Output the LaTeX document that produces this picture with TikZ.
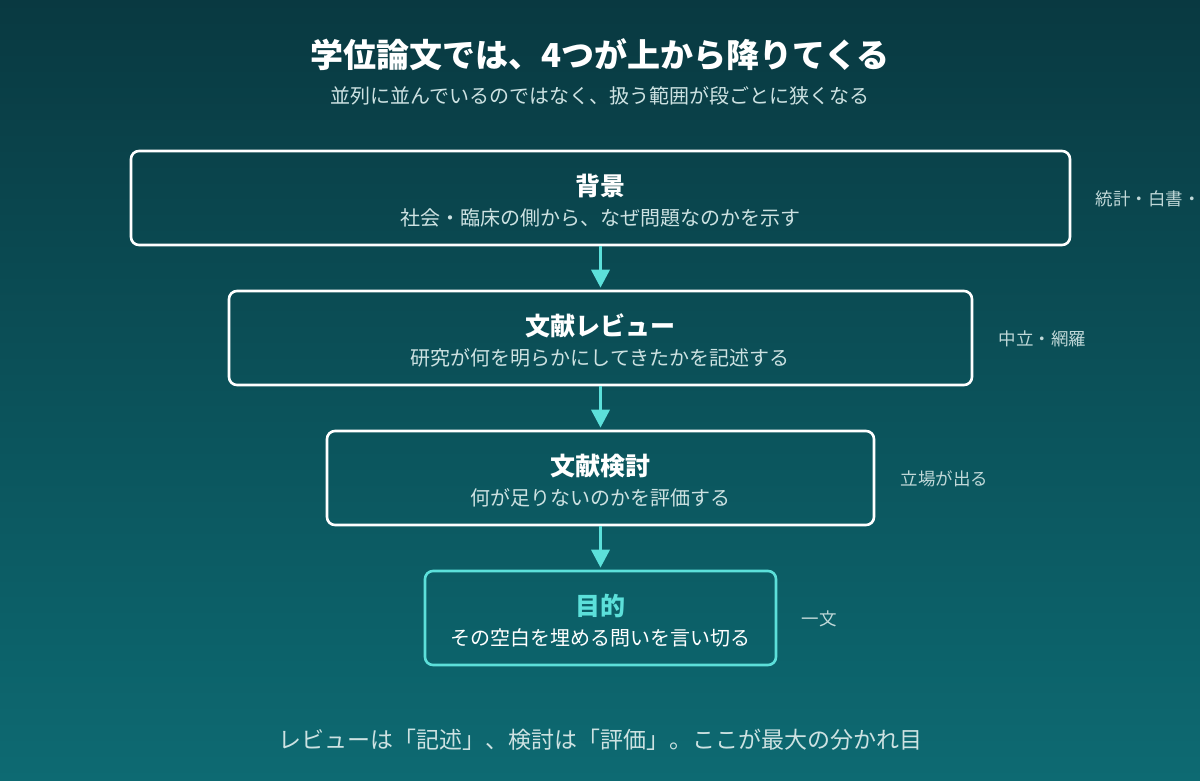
\documentclass[tikz,border=0pt]{standalone}
\usepackage{fontspec}
\setmainfont{Noto Sans CJK JP}
\newfontfamily\jp{Noto Sans CJK JP}
\usetikzlibrary{arrows.meta}
\definecolor{bgtop}{RGB}{9,57,65}
\definecolor{bgbot}{RGB}{13,106,114}
\definecolor{accent}{RGB}{92,224,218}
\definecolor{subtxt}{RGB}{205,226,226}
\definecolor{sidetxt}{RGB}{192,216,216}
\tikzset{
  stage/.style={draw=white, line width=2.6pt, rounded corners=8pt, minimum height=94pt, inner sep=0pt},
  goal/.style={stage, draw=accent},
  flow/.style={draw=accent, line width=3.5pt, -{Triangle[length=18pt,width=18pt]}, shorten >=2pt},
  ttl/.style={font=\jp\bfseries\fontsize{25}{29}\selectfont, text=white, anchor=center},
  sub/.style={font=\jp\fontsize{20}{24}\selectfont, text=subtxt, anchor=center},
  side/.style={font=\jp\fontsize{17.5}{21}\selectfont, text=sidetxt, anchor=west},
}
\begin{document}
\begin{tikzpicture}[x=1pt,y=-1pt]
\useasboundingbox (0,0) rectangle (1200,780);
\shade[top color=bgtop, bottom color=bgbot] (0,0) rectangle (1200,780);
% title
\node[font=\jp\bfseries\fontsize{33}{39}\selectfont, text=white] (title) at (600,55) {学位論文では、4つが上から降りてくる};
\node[font=\jp\fontsize{20}{24}\selectfont, text=subtxt] (subtitle) at (600,96) {並列に並んでいるのではなく、扱う範囲が段ごとに狭くなる};
% boxes
\node[stage, minimum width=939pt] (b1) at (600.5,198) {};
\node[stage, minimum width=743pt] (b2) at (600.5,338) {};
\node[stage, minimum width=547pt] (b3) at (600.5,478) {};
\node[goal, minimum width=351pt] (b4) at (600.5,618) {};
% texts
\node[ttl] (t1) at (600,186) {背景};
\node[sub] (s1) at (600,218) {社会・臨床の側から、なぜ問題なのかを示す};
\node[ttl] (t2) at (600,326) {文献レビュー};
\node[sub] (s2) at (600,358) {研究が何を明らかにしてきたかを記述する};
\node[ttl] (t3) at (600,466) {文献検討};
\node[sub] (s3) at (600,498) {何が足りないのかを評価する};
\node[ttl, text=accent] (t4) at (600,606) {目的};
\node[sub, text=white] (s4) at (600,638) {その空白を埋める問いを言い切る};
% arrows
\draw[flow] (b1.south) -- (b2.north);
\draw[flow] (b2.south) -- (b3.north);
\draw[flow] (b3.south) -- (b4.north);
% side labels
\node[side] (l1) at (1092,199) {統計・白書・};
\node[side] (l2) at (995,339) {中立・網羅};
\node[side] (l3) at (897,479) {立場が出る};
\node[side] (l4) at (798,619) {一文};
% bottom
\node[font=\jp\fontsize{23}{28}\selectfont, text=subtxt] (bottom) at (600,740) {レビューは「記述」、検討は「評価」。ここが最大の分かれ目};
\end{tikzpicture}
\end{document}
